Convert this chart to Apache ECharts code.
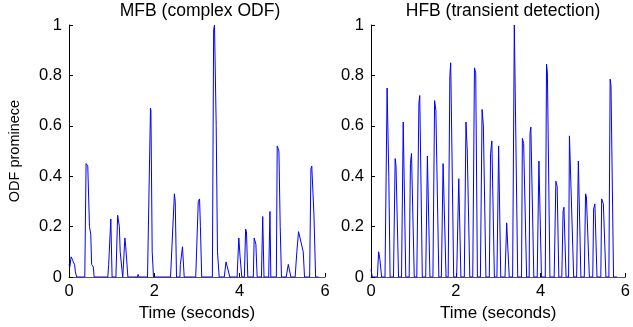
<!DOCTYPE html>
<html>
<head>
<meta charset="utf-8">
<script src="https://cdn.jsdelivr.net/npm/echarts@6/dist/echarts.min.js"></script>
<style>
  html, body { margin: 0; padding: 0; background: #fff; }
  #chart { width: 633px; height: 327px; }
</style>
</head>
<body>
<div id="chart"></div>
<script>
// MFB (complex ODF) - time in seconds, ODF prominence
const mfbTime = [0.00, 0.02, 0.05, 0.08, 0.10, 0.13, 0.15, 0.18, 0.37, 0.40, 0.44, 0.48, 0.51, 0.53, 0.57, 0.59,
  0.91, 0.93, 0.98, 1.01, 1.10, 1.14, 1.18, 1.20, 1.24, 1.26, 1.31, 1.33, 1.38, 1.60, 1.62, 1.64,
  1.84, 1.91, 1.92, 1.95, 1.98, 2.38, 2.47, 2.49, 2.52, 2.60, 2.61, 2.66, 2.70, 2.97, 3.03, 3.06, 3.08, 3.11,
  3.36, 3.39, 3.41, 3.45, 3.48, 3.52, 3.64, 3.68, 3.71, 3.77, 3.94, 3.98, 4.01, 4.05, 4.11, 4.14, 4.16, 4.19,
  4.32, 4.34, 4.38, 4.41, 4.51, 4.54, 4.57, 4.68, 4.71, 4.73, 4.86, 4.88, 4.92, 4.95, 4.98, 5.09, 5.14, 5.20,
  5.30, 5.34, 5.38, 5.42, 5.49, 5.52, 5.64, 5.67, 5.69, 5.74, 5.78, 5.85];
const mfbValue = [0.05, 0.04, 0.08, 0.07, 0.06, 0.05, 0.02, 0.00, 0.00, 0.45, 0.44, 0.20, 0.17, 0.05, 0.04, 0.00,
  0.00, 0.05, 0.23, 0.00, 0.00, 0.245, 0.20, 0.10, 0.03, 0.00, 0.155, 0.12, 0.00, 0.00, 0.01, 0.00,
  0.00, 0.67, 0.66, 0.10, 0.00, 0.00, 0.33, 0.30, 0.00, 0.00, 0.05, 0.12, 0.00, 0.00, 0.30, 0.31, 0.20, 0.00,
  0.00, 0.98, 1.00, 0.60, 0.10, 0.00, 0.00, 0.06, 0.04, 0.00, 0.00, 0.155, 0.08, 0.00, 0.00, 0.19, 0.18, 0.00,
  0.00, 0.155, 0.13, 0.00, 0.00, 0.24, 0.00, 0.00, 0.26, 0.00, 0.00, 0.52, 0.50, 0.20, 0.00, 0.00, 0.05, 0.00,
  0.00, 0.10, 0.18, 0.175, 0.10, 0.00, 0.00, 0.43, 0.44, 0.25, 0.00, 0.00];

// HFB (transient detection)
const hfbTime = [0.00, 0.03, 0.15, 0.18, 0.21, 0.25, 0.33, 0.38, 0.42, 0.45, 0.53, 0.57, 0.59, 0.65,
  0.72, 0.76, 0.82, 0.90, 0.93, 0.955, 1.02, 1.08, 1.13, 1.15, 1.21, 1.29, 1.33, 1.39, 1.46, 1.50, 1.53, 1.60,
  1.66, 1.70, 1.77, 1.82, 1.86, 1.88, 1.95, 2.02, 2.07, 2.12, 2.20, 2.24, 2.27, 2.33, 2.40, 2.44, 2.47, 2.51,
  2.58, 2.62, 2.65, 2.71, 2.79, 2.82, 2.85, 2.91, 2.97, 3.01, 3.06, 3.16, 3.20, 3.26, 3.34, 3.38, 3.46,
  3.55, 3.57, 3.60, 3.67, 3.73, 3.75, 3.77, 3.84, 3.92, 3.96, 4.02, 4.11, 4.14, 4.16, 4.22, 4.32, 4.36, 4.39, 4.43,
  4.50, 4.53, 4.55, 4.60, 4.66, 4.68, 4.71, 4.78, 4.85, 4.89, 4.95, 5.03, 5.06, 5.08, 5.15, 5.23, 5.25, 5.28, 5.33,
  5.42, 5.44, 5.48, 5.54, 5.61, 5.64, 5.66, 5.72, 5.80];
const hfbValue = [0.03, 0.00, 0.00, 0.10, 0.07, 0.00, 0.00, 0.75, 0.40, 0.00, 0.00, 0.47, 0.44, 0.00,
  0.00, 0.615, 0.00, 0.00, 0.45, 0.49, 0.00, 0.00, 0.69, 0.72, 0.00, 0.00, 0.48, 0.00, 0.00, 0.70, 0.66, 0.00,
  0.00, 0.45, 0.00, 0.00, 0.80, 0.85, 0.00, 0.00, 0.39, 0.00, 0.00, 0.615, 0.50, 0.00, 0.00, 0.83, 0.81, 0.00,
  0.00, 0.665, 0.60, 0.00, 0.00, 0.49, 0.54, 0.00, 0.00, 0.52, 0.00, 0.00, 0.215, 0.00, 0.00, 1.00, 0.00,
  0.00, 0.55, 0.53, 0.00, 0.00, 0.57, 0.595, 0.00, 0.00, 0.46, 0.00, 0.00, 0.845, 0.81, 0.00, 0.00, 0.38, 0.36, 0.00,
  0.00, 0.26, 0.277, 0.00, 0.00, 0.56, 0.555, 0.00, 0.00, 0.46, 0.00, 0.00, 0.33, 0.32, 0.00, 0.00, 0.27, 0.29, 0.00,
  0.00, 0.31, 0.29, 0.00, 0.00, 0.785, 0.76, 0.00, 0.00];

const titles = ['MFB (complex ODF)', 'HFB (transient detection)'];
const xTicks = { min: 0, max: 6, interval: 2 };
const yTicks = { min: 0, max: 1, interval: 0.2 };

const font = 'Liberation Sans';
const zip = (a, b) => a.map((t, i) => [t, b[i]]);

const chart = echarts.init(document.getElementById('chart'));

const xAxisBase = (idx) => ({
  gridIndex: idx,
  type: 'value',
  min: xTicks.min, max: xTicks.max, interval: xTicks.interval,
  axisLine: { lineStyle: { color: '#555', width: 1 } },
  axisTick: { inside: true, length: 4, lineStyle: { color: '#000' } },
  axisLabel: { color: '#000', fontSize: 16.5, fontFamily: font, margin: 6 },
  splitLine: { show: false },
  name: 'Time (seconds)',
  nameLocation: 'middle',
  nameGap: 24,
  nameTextStyle: { color: '#000', fontSize: 17, fontFamily: font }
});

const yAxisBase = (idx) => ({
  gridIndex: idx,
  type: 'value',
  min: yTicks.min, max: yTicks.max, interval: yTicks.interval,
  axisLine: { show: true, lineStyle: { color: '#000', width: 1 } },
  axisTick: { show: true, inside: true, length: 4, lineStyle: { color: '#000' } },
  axisLabel: { color: '#000', fontSize: 16.5, fontFamily: font, margin: 7 },
  splitLine: { show: false }
});

const option = {
  animation: false,
  backgroundColor: '#fff',
  title: [
    { text: titles[0], left: 195, top: -3, textAlign: 'center',
      textStyle: { color: '#000', fontSize: 17.5, fontWeight: 'normal', fontFamily: font } },
    { text: titles[1], left: 498, top: -3, textAlign: 'center',
      textStyle: { color: '#000', fontSize: 17.5, fontWeight: 'normal', fontFamily: font } }
  ],
  grid: [
    { left: 69, right: 308, top: 25, bottom: 50 },
    { left: 371, right: 5, top: 25, bottom: 50 }
  ],
  xAxis: [xAxisBase(0), xAxisBase(1)],
  yAxis: [
    Object.assign(yAxisBase(0), {
      name: 'ODF prominece',
      nameLocation: 'middle',
      nameGap: 47,
      nameTextStyle: { color: '#000', fontSize: 14.5, fontFamily: font }
    }),
    yAxisBase(1)
  ],
  series: [
    {
      type: 'line', xAxisIndex: 0, yAxisIndex: 0,
      data: zip(mfbTime, mfbValue),
      showSymbol: false, symbol: 'none',
      lineStyle: { color: '#0000ff', width: 1 }
    },
    {
      type: 'line', xAxisIndex: 1, yAxisIndex: 1,
      data: zip(hfbTime, hfbValue),
      showSymbol: false, symbol: 'none',
      lineStyle: { color: '#0000ff', width: 1 }
    }
  ]
};

chart.setOption(option);
</script>
</body>
</html>
